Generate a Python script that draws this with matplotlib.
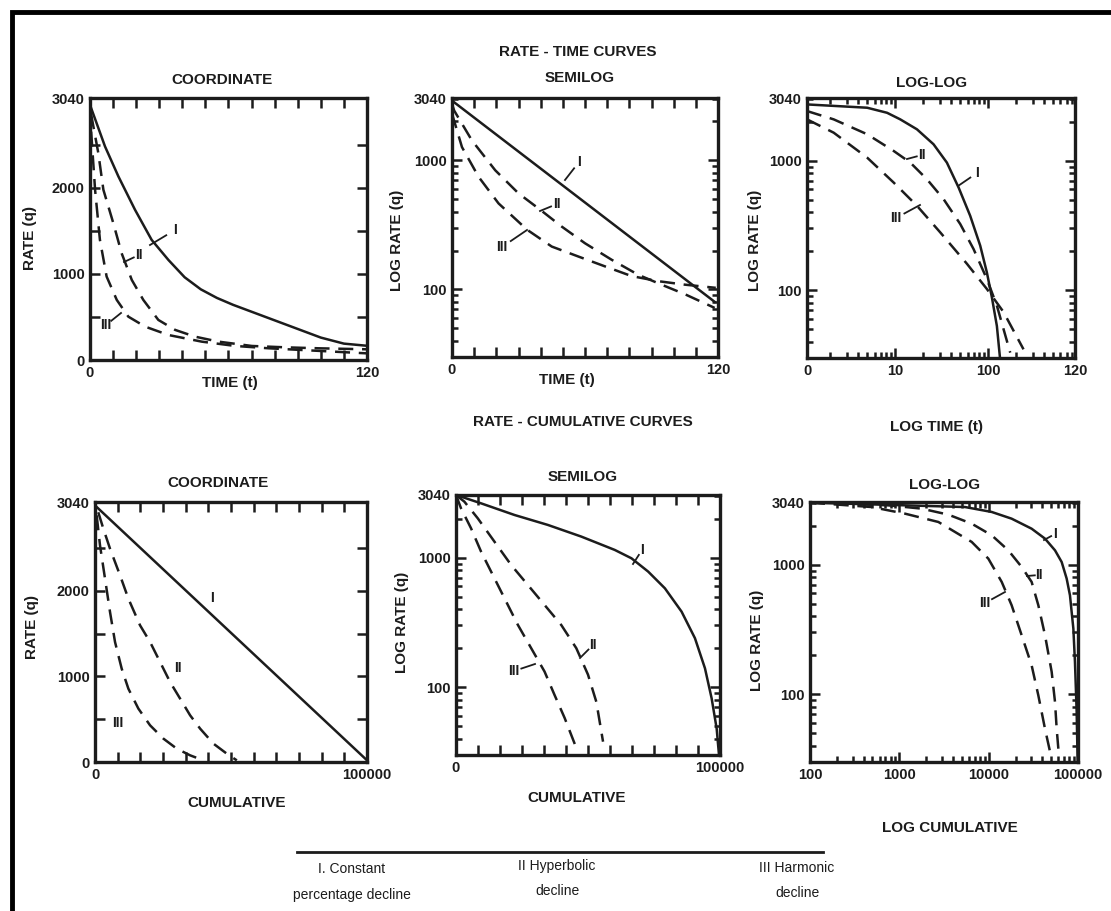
import numpy as np
import matplotlib.pyplot as plt
from matplotlib.ticker import LogLocator, NullFormatter
from matplotlib.patches import Rectangle
from matplotlib.lines import Line2D

W, H = 1111, 911
INK = '#1c1c1c'
plt.rcParams['font.family'] = ['Liberation Sans Narrow', 'Liberation Sans', 'DejaVu Sans']
plt.rcParams['font.weight'] = 'bold'

# ---- values ----
# rate-time, coordinate
ta_I = [0, 6.5, 12.3, 19.5, 26.7, 34, 41, 48, 55, 62, 70, 80, 90, 100, 110, 120]
qa_I = [2960, 2478, 2130, 1743, 1394, 1160, 960, 820, 720, 640, 560, 460, 360, 260, 190, 165]
ta_II = [0.5, 3.6, 5.8, 10.1, 13.7, 18.1, 23.1, 29.6, 36.9, 45.5, 55.7, 70.1, 84.6, 99, 120]
qa_II = [2850, 2401, 1975, 1588, 1239, 929, 697, 465, 349, 271, 213, 163, 147, 136, 124]
ta_III = [0.5, 2.2, 4.3, 7.2, 11.6, 16.6, 23.9, 34, 48.4, 62.9, 77.3, 91.8, 120]
qa_III = [2650, 1975, 1394, 968, 697, 503, 387, 290, 213, 163, 136, 116, 77]

# rate-time, semilog
tb_I = [0, 119]
qb_I = [2900, 79]
tb_II = [0, 1, 9, 19.5, 30, 40, 49.5, 60, 72, 84, 94.5, 105, 118.5]
qb_II = [2730, 2425, 1425, 838, 555, 412, 307, 228, 170, 130, 109, 92, 72]
tb_III = [0, 4.5, 12, 21, 33.9, 45, 57, 69, 81, 93, 105, 119]
qb_III = [2300, 1266, 745, 464, 290, 215, 180, 151, 127, 116, 109, 103]

# rate-time, log-log
tc_I = [1.12, 4.97, 8.15, 11.3, 17.1, 25.8, 35.9, 48, 64, 82, 96.8, 109.6, 124, 134.6]
qc_I = [2712, 2558, 2338, 2080, 1743, 1336, 965, 620, 375, 221, 137, 88, 53, 29]
tc_II = [1.12, 2.17, 4.97, 9.6, 14.5, 21.9, 33.1, 50, 69.5, 96.8, 124, 172.6]
qc_II = [2411, 2080, 1597, 1187, 965, 718, 504, 324, 208, 122, 76, 33]
tc_III = [1.12, 2.17, 4.97, 9.6, 17.1, 30.5, 59, 97, 146, 240]
qc_III = [2080, 1642, 1055, 677, 448, 279, 160, 102, 68, 35]

# rate-cumulative, coordinate
nd_I = [0, 100000]
qd_I = [3000, 20]
nd_II = [1200, 3067, 5521, 9202, 12270, 16564, 20245, 23926, 27607, 31288, 34969, 38650, 43558, 48466, 52147]
qd_II = [2920, 2728, 2494, 2183, 1910, 1598, 1403, 1169, 935, 741, 546, 390, 214, 97, 19]
nd_III = [613, 1840, 3681, 5521, 7362, 9816, 12270, 15951, 20245, 25153, 30061, 34969, 39877]
qd_III = [2884, 2533, 2144, 1754, 1403, 1091, 857, 624, 429, 273, 156, 78, 19]

# rate-cumulative, semilog
ne_I = [0, 1899, 9494, 22152, 34810, 47468, 60127, 66456, 72785, 79114, 85443, 90506, 94304, 96835, 98734, 99620]
qe_I = [3040, 2953, 2622, 2132, 1786, 1452, 1146, 988, 780, 580, 383, 239, 140, 82, 48, 30]
ne_II = [0, 3165, 8228, 14557, 20886, 27215, 33544, 39873, 45570, 50000, 53165, 55696]
qe_II = [3040, 2702, 2011, 1328, 877, 615, 431, 302, 200, 125, 77, 38]
ne_III = [0, 1899, 5696, 9494, 13924, 18354, 23418, 28481, 33544, 37342, 41139, 45570]
qe_III = [3040, 2401, 1683, 1112, 735, 486, 303, 200, 132, 87, 58, 34]

# rate-cumulative, log-log
nf_I = [100, 5433, 10814, 18071, 30269, 42735, 55300, 65645, 74650, 81283, 84918, 88716, 92470, 96605, 99100]
qf_I = [3006, 2780, 2547, 2261, 1892, 1585, 1288, 1047, 780, 580, 431, 321, 177, 73, 30]
nf_II = [100, 753, 1778, 3540, 6457, 10814, 16596, 23400, 30269, 35965, 42735, 50720, 55300, 57730, 60256]
qf_II = [3006, 2866, 2702, 2428, 2069, 1683, 1288, 959, 735, 486, 285, 149, 87, 54, 38]
nf_III = [100, 490, 1156, 2735, 4198, 6457, 9908, 13996, 18071, 23400, 30269, 35965, 42735, 48640]
qf_III = [3006, 2780, 2472, 2132, 1786, 1496, 1112, 735, 486, 285, 167, 98, 54, 36]

fig = plt.figure(figsize=(W / 100, H / 100), dpi=100)
fig.patch.set_facecolor('white')


def box(x0, y0, x1, y1):
    return fig.add_axes([x0 / W, 1 - y1 / H, (x1 - x0) / W, (y1 - y0) / H])


def txt(x, y, s, size=11, **kw):
    fig.text(x / W, 1 - y / H, s, ha='center', va='center', color=INK, fontsize=size, **kw)


def tag(s, tx, ty, px=None, py=None):
    txt(tx, ty, s, size=10)
    if px is not None:
        fig.add_artist(Line2D([px / W, (tx + (px - tx) * 0.35) / W],
                              [1 - py / H, 1 - (ty + (py - ty) * 0.35) / H],
                              transform=fig.transFigure, color=INK, lw=1.3))


def frame(ax):
    for sp in ax.spines.values():
        sp.set_linewidth(2.4)
        sp.set_color(INK)
    ax.tick_params(which='both', direction='in', top=True, right=True,
                   colors=INK, labelsize=10.5, width=1.8, pad=4)
    ax.tick_params(which='major', length=7)
    ax.tick_params(which='minor', length=4.5)


def curves(ax, xs, ys):
    styles = ['-', (0, (6, 3.5)), (0, (6, 3.5))]
    for x, y, ls in zip(xs, ys, styles):
        ax.plot(x, y, color=INK, lw=1.8, ls=ls, solid_capstyle='butt')


def lin_y(ax):
    ax.set_ylim(0, 3040)
    ax.set_yticks([0, 500, 1000, 1500, 2000, 2500, 3040],
                  ['0', '', '1000', '', '2000', '', '3040'])


def log_y(ax):
    ax.set_yscale('log')
    ax.set_ylim(30, 3040)
    ax.set_yticks([100, 1000, 3040], ['100', '1000', '3040'])
    ax.yaxis.set_minor_locator(LogLocator(10, subs=np.arange(2, 10)))
    ax.yaxis.set_minor_formatter(NullFormatter())


def log_x(ax, lo, hi, ticks, labels):
    ax.set_xscale('log')
    ax.set_xlim(lo, hi)
    ax.set_xticks(ticks, labels)
    ax.xaxis.set_minor_locator(LogLocator(10, subs=np.arange(2, 10)))
    ax.xaxis.set_minor_formatter(NullFormatter())


# --- top row: rate-time ---
axA = box(90, 98, 367, 360)
curves(axA, [ta_I, ta_II, ta_III], [qa_I, qa_II, qa_III])
axA.set_xlim(0, 120)
axA.set_xticks(np.linspace(0, 120, 13), ['0'] + [''] * 11 + ['120'])
lin_y(axA)
frame(axA)

axB = box(452, 98, 718, 357)
curves(axB, [tb_I, tb_II, tb_III], [qb_I, qb_II, qb_III])
axB.set_xlim(0, 120)
axB.set_xticks(np.linspace(0, 120, 13), ['0'] + [''] * 11 + ['120'])
log_y(axB)
frame(axB)

axC = box(807, 98, 1075, 358)
curves(axC, [tc_I, tc_II, tc_III], [qc_I, qc_II, qc_III])
log_x(axC, 1.12, 860, [1.12, 10, 100, 860], ['0', '10', '100', '120'])
log_y(axC)
frame(axC)

# --- bottom row: rate-cumulative ---
axD = box(95, 502, 367, 762)
curves(axD, [nd_I, nd_II, nd_III], [qd_I, qd_II, qd_III])
axD.set_xlim(0, 100000)
axD.set_xticks(np.linspace(0, 100000, 13), ['0'] + [''] * 11 + ['100000'])
lin_y(axD)
frame(axD)

axE = box(456, 495, 720, 755)
curves(axE, [ne_I, ne_II, ne_III], [qe_I, qe_II, qe_III])
axE.set_xlim(0, 100000)
axE.set_xticks(np.linspace(0, 100000, 13), ['0'] + [''] * 11 + ['100000'])
log_y(axE)
frame(axE)

axF = box(810, 502, 1078, 762)
curves(axF, [nf_I, nf_II, nf_III], [qf_I, qf_II, qf_III])
log_x(axF, 100, 100000, [100, 1000, 10000, 100000], ['100', '1000', '10000', '100000'])
log_y(axF)
frame(axF)

# --- titles and axis names ---
txt(578, 52, 'RATE - TIME CURVES')
txt(222, 80, 'COORDINATE')
txt(580, 78, 'SEMILOG')
txt(932, 83, 'LOG-LOG')
txt(30, 238, 'RATE (q)', rotation=90)
txt(397, 240, 'LOG RATE (q)', rotation=90)
txt(755, 240, 'LOG RATE (q)', rotation=90)
txt(230, 383, 'TIME (t)')
txt(567, 380, 'TIME (t)')
txt(937, 427, 'LOG TIME (t)')

txt(583, 422, 'RATE - CUMULATIVE CURVES')
txt(218, 483, 'COORDINATE')
txt(583, 477, 'SEMILOG')
txt(945, 485, 'LOG-LOG')
txt(32, 627, 'RATE (q)', rotation=90)
txt(402, 622, 'LOG RATE (q)', rotation=90)
txt(757, 640, 'LOG RATE (q)', rotation=90)
txt(237, 803, 'CUMULATIVE')
txt(577, 798, 'CUMULATIVE')
txt(950, 828, 'LOG CUMULATIVE')

# --- curve tags ---
tag('I', 175, 230, 150, 245)
tag('II', 139, 255, 124, 262)
tag('III', 106, 325, 121, 313)
tag('I', 579, 162, 565, 180)
tag('II', 557, 204, 540, 211)
tag('III', 502, 247, 527, 230)
tag('I', 977, 173, 958, 186)
tag('II', 922, 155, 907, 159)
tag('III', 896, 218, 920, 205)
tag('I', 212, 598)
tag('II', 178, 668)
tag('III', 118, 723)
tag('I', 642, 550, 633, 564)
tag('II', 593, 645, 580, 658)
tag('III', 514, 671, 535, 664)
tag('I', 1055, 534, 1044, 540)
tag('II', 1039, 575, 1027, 576)
tag('III', 985, 603, 1005, 592)

# --- key under the panels ---
fig.add_artist(Line2D([297 / W, 823 / W], [1 - 852 / H, 1 - 852 / H],
                      transform=fig.transFigure, color=INK, lw=2))
txt(352, 869, 'I. Constant', size=10, fontweight='normal')
txt(352, 895, 'percentage decline', size=10, fontweight='normal')
txt(557, 866, 'II Hyperbolic', size=10, fontweight='normal')
txt(557, 891, 'decline', size=10, fontweight='normal')
txt(797, 868, 'III Harmonic', size=10, fontweight='normal')
txt(797, 893, 'decline', size=10, fontweight='normal')

# outer border
fig.add_artist(Rectangle((12 / W, -0.02), 1.05, 1 - 12 / H + 0.02, transform=fig.transFigure,
                         fill=False, lw=3.5, ec='black'))

fig.savefig('out.png', dpi=100)
